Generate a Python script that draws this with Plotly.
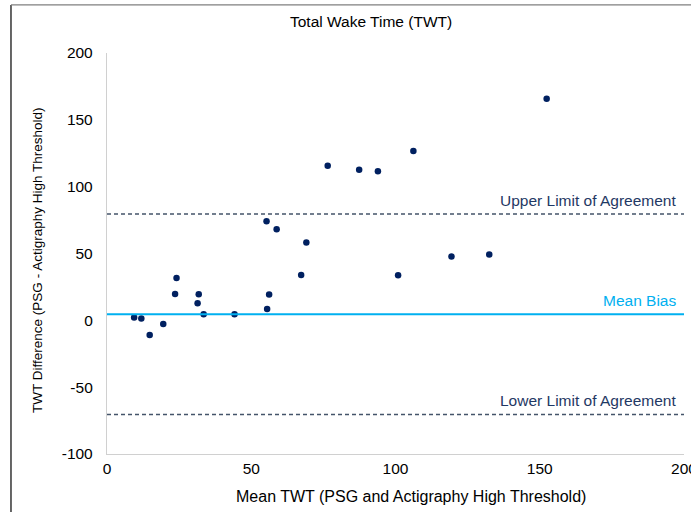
import plotly.graph_objects as go

# Data (Bland-Altman)
mean_twt = [9.4, 11.9, 14.8, 19.5, 23.6, 24.1, 31.4, 31.8, 33.5, 44.2,
            55.3, 55.5, 56.2, 58.8, 67.3, 69.1, 76.5, 87.4, 93.9, 100.9,
            106.2, 119.4, 132.5, 152.4]
diff_twt = [2.2, 1.3, -11.0, -2.8, 19.7, 31.7, 12.7, 19.5, 4.5, 4.5,
            74.2, 8.5, 19.3, 68.2, 33.9, 58.2, 115.6, 112.6, 111.6, 33.7,
            126.6, 47.7, 49.2, 165.8]
mean_bias = 4.5
upper_loa = 79.6
lower_loa = -70.4
x_ticks = [0, 50, 100, 150, 200]
y_ticks = [-100, -50, 0, 50, 100, 150, 200]

FONT = "Liberation Sans, Arial, sans-serif"
NAVY = "#002060"
DASH = "#44546A"
LABEL = "#1F3864"
BIAS = "#00B0F0"

fig = go.Figure()
fig.add_trace(go.Scatter(
    x=mean_twt, y=diff_twt, mode="markers",
    marker=dict(color=NAVY, size=6.5, line=dict(width=0)),
    showlegend=False, hoverinfo="x+y"))

for yv, col, dash, w in [(upper_loa, DASH, "4px,3px", 1.5),
                         (mean_bias, BIAS, "solid", 2),
                         (lower_loa, DASH, "4px,3px", 1.5)]:
    fig.add_shape(type="line", xref="paper", yref="y", x0=0, x1=1, y0=yv, y1=yv,
                  line=dict(color=col, width=w, dash=dash), layer="above")

for yv, txt, col in [(upper_loa, "Upper Limit of Agreement", LABEL),
                     (mean_bias, "Mean Bias", BIAS),
                     (lower_loa, "Lower Limit of Agreement", LABEL)]:
    fig.add_annotation(x=0.99, xref="paper", y=yv, yref="y", text=txt,
                       showarrow=False, xanchor="right", yanchor="bottom",
                       yshift=3, font=dict(family=FONT, size=15.5, color=col))

# axis titles (placed as in the reference)
fig.add_annotation(x=0.527, xref="paper", y=-0.106, yref="paper",
                   text="Mean TWT (PSG and Actigraphy High Threshold)",
                   showarrow=False, xanchor="center", yanchor="middle",
                   font=dict(family=FONT, size=16, color="#000000"))
fig.add_annotation(x=-0.1196, xref="paper", y=0.484, yref="paper",
                   text="TWT Difference (PSG - Actigraphy High Threshold)",
                   textangle=-90, showarrow=False, xanchor="center", yanchor="middle",
                   font=dict(family=FONT, size=13.5, color="#000000"))

# outer frame (chart border)
fig.add_shape(type="line", xref="paper", yref="paper", x0=-0.1664, x1=-0.1664,
              y0=-0.2, y1=1.12, line=dict(color="#000000", width=1.2))
fig.add_shape(type="line", xref="paper", yref="paper", x0=-0.1664, x1=1.2,
              y0=1.12, y1=1.12, line=dict(color="#7F7F7F", width=1.2))

fig.update_layout(
    width=691, height=512,
    margin=dict(l=107, r=7, t=53, b=58),
    paper_bgcolor="white", plot_bgcolor="white",
    font=dict(family=FONT, size=15.5, color="#000000"),
    title=dict(text="Total Wake Time (TWT)", x=0.537, xanchor="center",
               y=0.957, yanchor="middle", font=dict(family=FONT, size=15.5, color="#000000")),
    xaxis=dict(range=[0, 200], tickvals=x_ticks, ticktext=[str(v) for v in x_ticks],
               showgrid=False, zeroline=False, ticklabeloverflow="allow", automargin=False,
               showline=True, linecolor="#D0D0D0", linewidth=1.3, ticks="",
               tickfont=dict(family=FONT, size=15.5)),
    yaxis=dict(range=[-100, 200], tickvals=y_ticks, ticktext=[str(v) for v in y_ticks],
               showgrid=False, zeroline=False, ticklabeloverflow="allow", automargin=False,
               showline=True, linecolor="#D0D0D0", linewidth=1.3, ticks="",
               tickfont=dict(family=FONT, size=15.5), ticklabelstandoff=10),
)

fig.write_html("out.html", config={"displayModeBar": False},
               post_script="document.body.style.margin='0';document.body.style.overflow='hidden';")
